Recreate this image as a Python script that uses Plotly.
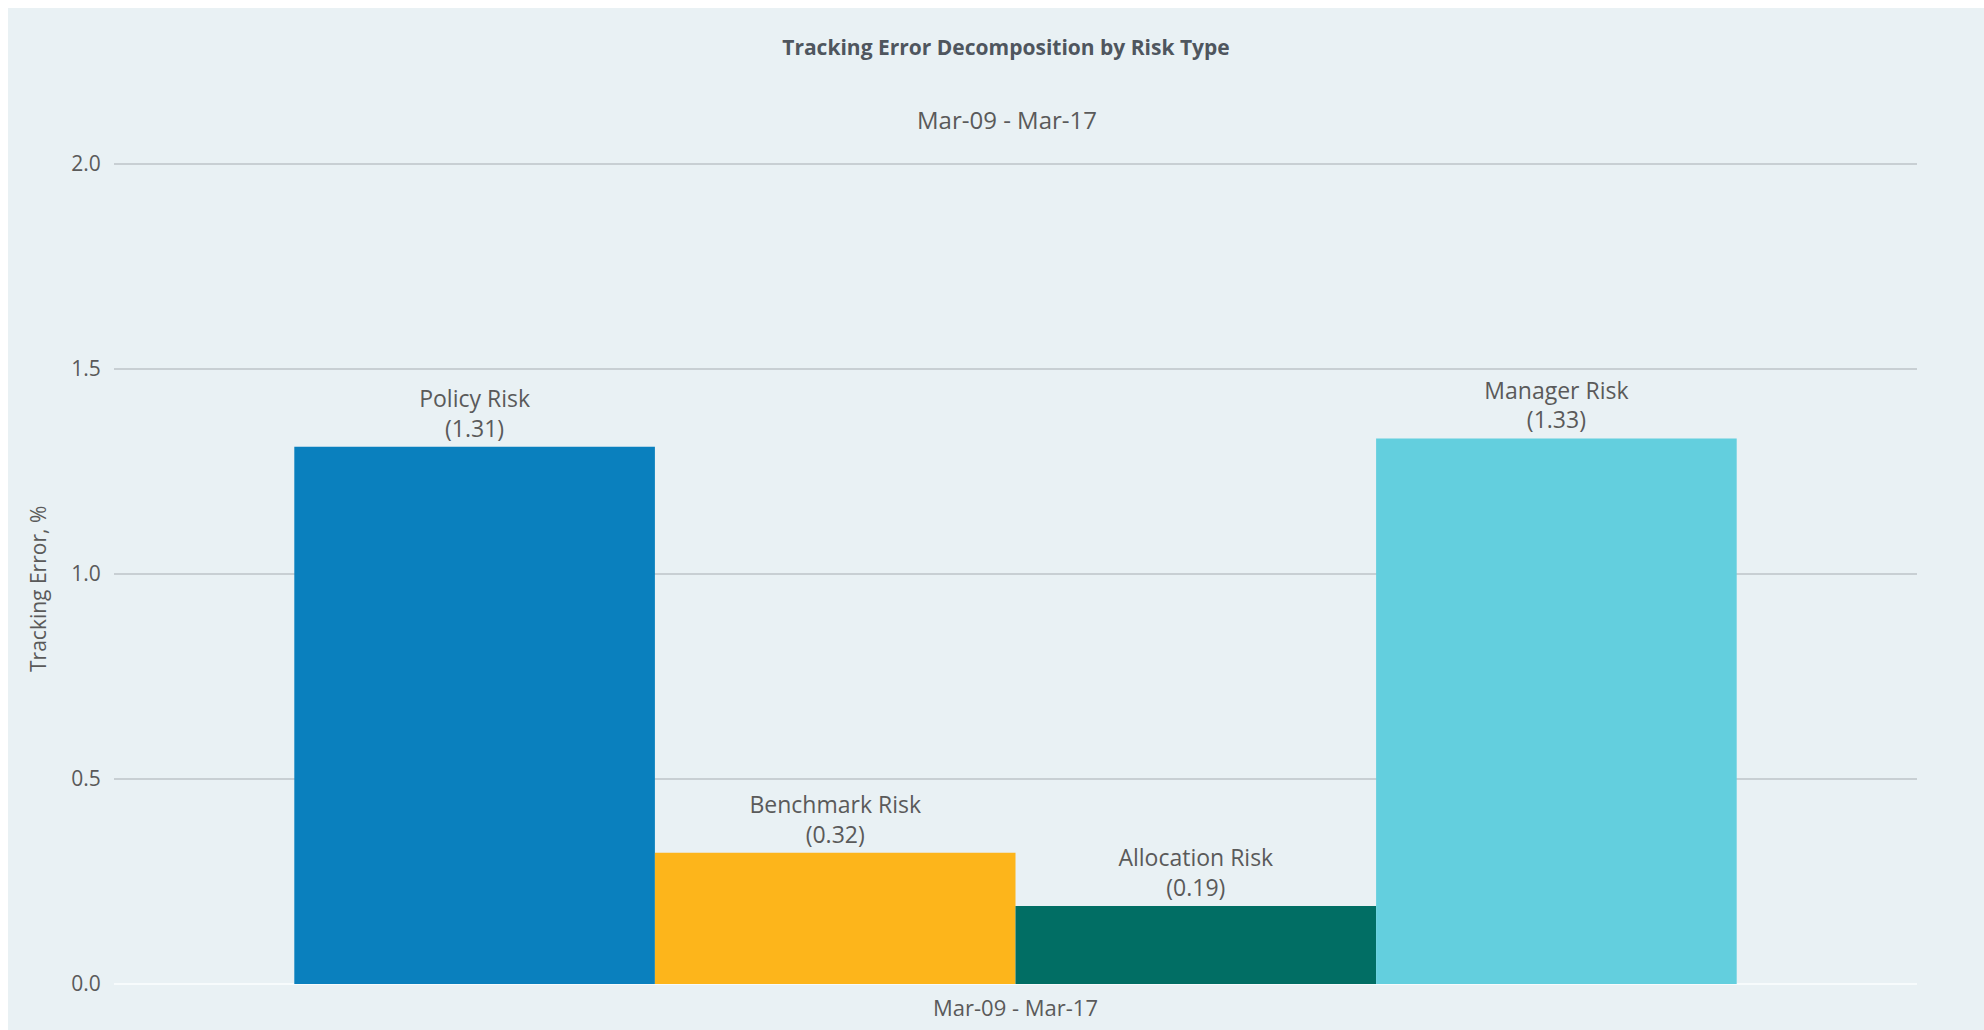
import plotly.graph_objects as go

# ---- data ----
period = ["Mar-09 - Mar-17"]
risk_types = ["Policy Risk", "Benchmark Risk", "Allocation Risk", "Manager Risk"]
values = [1.31, 0.32, 0.19, 1.33]
colors = ["#0a80be", "#fdb51b", "#016e64", "#63cfde"]
y_ticks = [0.0, 0.5, 1.0, 1.5, 2.0]
chart_title = "Tracking Error Decomposition by Risk Type"
chart_subtitle = "Mar-09 - Mar-17"
y_title = "Tracking Error, %"

BG = "#e9f1f4"
TXT = "#5a5a5a"
FONT = "Open Sans"

fig = go.Figure()
for name, v, c in zip(risk_types, values, colors):
    fig.add_trace(go.Bar(
        x=period, y=[v], name=name,
        marker=dict(color=c, line=dict(width=0)),
        text=[f"{name}<br>({v:.2f})"],
        textposition="outside",
        textfont=dict(family=FONT, size=23, color=TXT),
        cliponaxis=False,
        hoverinfo="skip",
    ))

W, H = 1976, 1022
ml, mr, mt, mb = 106, 67, 154, 46
pw = W - ml - mr
ph = H - mt - mb

fig.update_layout(
    width=W, height=H,
    margin=dict(l=ml, r=mr, t=mt, b=mb, pad=0),
    paper_bgcolor=BG, plot_bgcolor=BG,
    barmode="group", bargap=0.2, bargroupgap=0,
    showlegend=False,
    title=dict(
        text=chart_title,
        font=dict(family=FONT, size=21, color="#4f565e", weight="bold"),
        x=998 / W, xref="container", xanchor="center",
        y=1 - 40 / H, yref="container", yanchor="middle",
    ),
    xaxis=dict(
        type="category", automargin=False,
        showgrid=False, zeroline=False, showline=False,
        tickfont=dict(family=FONT, size=22, color=TXT),
        ticks="outside", ticklen=5, tickcolor="rgba(0,0,0,0)",
    ),
    yaxis=dict(
        range=[0, 2.004], tickvals=y_ticks, tickformat=".1f", automargin=False,
        showgrid=True, gridcolor="#c8cfd3", gridwidth=1.5,
        zeroline=True, zerolinecolor="#f7fbfc", zerolinewidth=2,
        showline=False,
        tickfont=dict(family=FONT, size=21, color=TXT),
        ticks="outside", ticklen=8, tickcolor="rgba(0,0,0,0)",
    ),
    annotations=[
        dict(text=chart_subtitle, xref="paper", yref="paper",
             x=(999 - ml) / pw, y=(H - mb - 112) / ph,
             xanchor="center", yanchor="middle", showarrow=False,
             font=dict(family=FONT, size=24, color=TXT)),
        dict(text=y_title, xref="paper", yref="paper",
             x=(30 - ml) / pw, y=(H - mb - 581) / ph, textangle=-90,
             xanchor="center", yanchor="middle", showarrow=False,
             font=dict(family=FONT, size=21, color=TXT)),
    ],
)

fig.write_html(
    "out.html",
    post_script="document.body.style.marginBottom='0px';"
                "document.body.style.marginRight='0px';",
)
